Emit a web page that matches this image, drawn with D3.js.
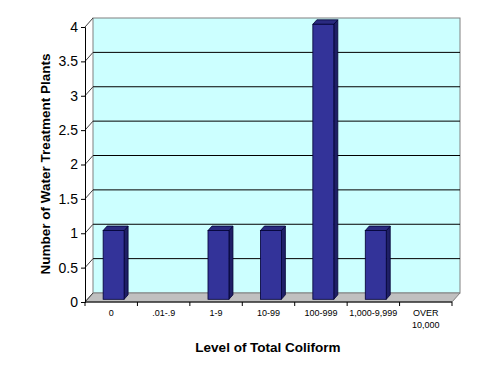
<!DOCTYPE html>
<html>
<head>
<meta charset="utf-8">
<script src="https://cdn.jsdelivr.net/npm/d3@7"></script>
<style>
  body { margin: 0; background: #fff; }
  text { font-family: "Liberation Sans", Arial, sans-serif; }
</style>
</head>
<body>
<script>
// data
var categories = ["0", ".01-.9", "1-9", "10-99", "100-999", "1,000-9,999", "OVER 10,000"];
var values = [1, 0, 1, 1, 4, 1, 0];
var yTicks = [0, 0.5, 1, 1.5, 2, 2.5, 3, 3.5, 4];

var W = 491, H = 374;
var depthX = 8, depthY = 9;   // 3d offset of the back wall

var svg = d3.select("body").append("svg")
    .attr("width", W).attr("height", H);

var x = d3.scaleBand().domain(categories).range([85, 452]);
var y = d3.scaleLinear().domain([0, 4]).range([302, 27]);

// back wall
svg.append("rect")
    .attr("x", x.range()[0] + depthX).attr("y", y(4) - depthY)
    .attr("width", x.range()[1] - x.range()[0])
    .attr("height", y(0) - y(4))
    .attr("fill", "#ccffff")
    .attr("stroke", "#808080");

// floor
var x0 = x.range()[0], x1 = x.range()[1];
svg.append("path")
    .attr("d", "M" + x0 + "," + y(0) + "L" + x1 + "," + y(0) +
               "L" + (x1 + depthX) + "," + (y(0) - depthY) +
               "L" + (x0 + depthX) + "," + (y(0) - depthY) + "Z")
    .attr("fill", "#c0c0c0")
    .attr("stroke", "#808080");

// grid lines on back wall + slanted lines on side wall
yTicks.forEach(function(t) {
    if (t > 0 && t < 4) {
        svg.append("line")
            .attr("x1", x0 + depthX).attr("x2", x1 + depthX)
            .attr("y1", y(t) - depthY).attr("y2", y(t) - depthY)
            .attr("stroke", "#000").attr("stroke-width", 1);
    }
    svg.append("line")
        .attr("x1", x0).attr("y1", y(t))
        .attr("x2", x0 + depthX).attr("y2", y(t) - depthY)
        .attr("stroke", "#404040").attr("stroke-width", 1);
});

// bars
var f0 = 0.3, f1 = 0.8, barW = x.bandwidth() * 0.4;
var bars = svg.append("g");
categories.forEach(function(c, i) {
    var v = values[i];
    if (v <= 0) return;
    var bx = x(c) + (x.bandwidth() - barW) / 2 + depthX * f0;
    var by0 = y(0) - depthY * f0;
    var by1 = y(v) - depthY * f0;
    var dx = depthX * (f1 - f0), dy = depthY * (f1 - f0);
    // side
    bars.append("path")
        .attr("d", "M" + (bx + barW) + "," + by0 + "L" + (bx + barW + dx) + "," + (by0 - dy) +
                   "L" + (bx + barW + dx) + "," + (by1 - dy) + "L" + (bx + barW) + "," + by1 + "Z")
        .attr("fill", "#1f1f66").attr("stroke", "#000033").attr("stroke-width", 0.8);
    // top
    bars.append("path")
        .attr("d", "M" + bx + "," + by1 + "L" + (bx + dx) + "," + (by1 - dy) +
                   "L" + (bx + barW + dx) + "," + (by1 - dy) + "L" + (bx + barW) + "," + by1 + "Z")
        .attr("fill", "#2a2a80").attr("stroke", "#000033").attr("stroke-width", 0.8);
    // front
    bars.append("rect")
        .attr("x", bx).attr("y", by1)
        .attr("width", barW).attr("height", by0 - by1)
        .attr("fill", "#333399").attr("stroke", "#000033").attr("stroke-width", 0.8);
});

// y axis
var yAxis = svg.append("g")
    .attr("transform", "translate(" + x0 + ",0)")
    .call(d3.axisLeft(y).tickValues(yTicks).tickSize(4).tickPadding(3)
        .tickFormat(function(d) { return d3.format("")(d); }));
yAxis.select(".domain").attr("stroke", "#000");
yAxis.selectAll("text").attr("font-size", 14).attr("fill", "#000")
    .attr("font-family", "Liberation Sans, Arial, sans-serif");

// x axis (ticks on category boundaries)
svg.append("line")
    .attr("x1", x0).attr("x2", x1).attr("y1", y(0)).attr("y2", y(0))
    .attr("stroke", "#000");
var bounds = categories.map(function(c) { return x(c); }).concat([x1]);
svg.selectAll(".xtick").data(bounds).enter().append("line")
    .attr("x1", function(d) { return d; }).attr("x2", function(d) { return d; })
    .attr("y1", y(0)).attr("y2", y(0) + 4)
    .attr("stroke", "#000");

svg.selectAll(".xlabel").data(categories).enter().append("text")
    .attr("text-anchor", "middle")
    .attr("font-size", 9)
    .attr("fill", "#000")
    .each(function(d) {
        var t = d3.select(this);
        var parts = d.indexOf("OVER") === 0 ? ["OVER", d.slice(5)] : [d];
        parts.forEach(function(p, k) {
            t.append("tspan")
                .attr("x", x(d) + x.bandwidth() / 2)
                .attr("y", 316 + k * 11.5)
                .text(p);
        });
    });

// axis titles
svg.append("text")
    .attr("x", 268).attr("y", 352)
    .attr("text-anchor", "middle")
    .attr("font-size", 13.5).attr("font-weight", "bold")
    .text("Level of Total Coliform");

svg.append("text")
    .attr("transform", "translate(50,164) rotate(-90)")
    .attr("text-anchor", "middle")
    .attr("font-size", 13.5).attr("font-weight", "bold")
    .text("Number of Water Treatment Plants");
</script>
</body>
</html>
